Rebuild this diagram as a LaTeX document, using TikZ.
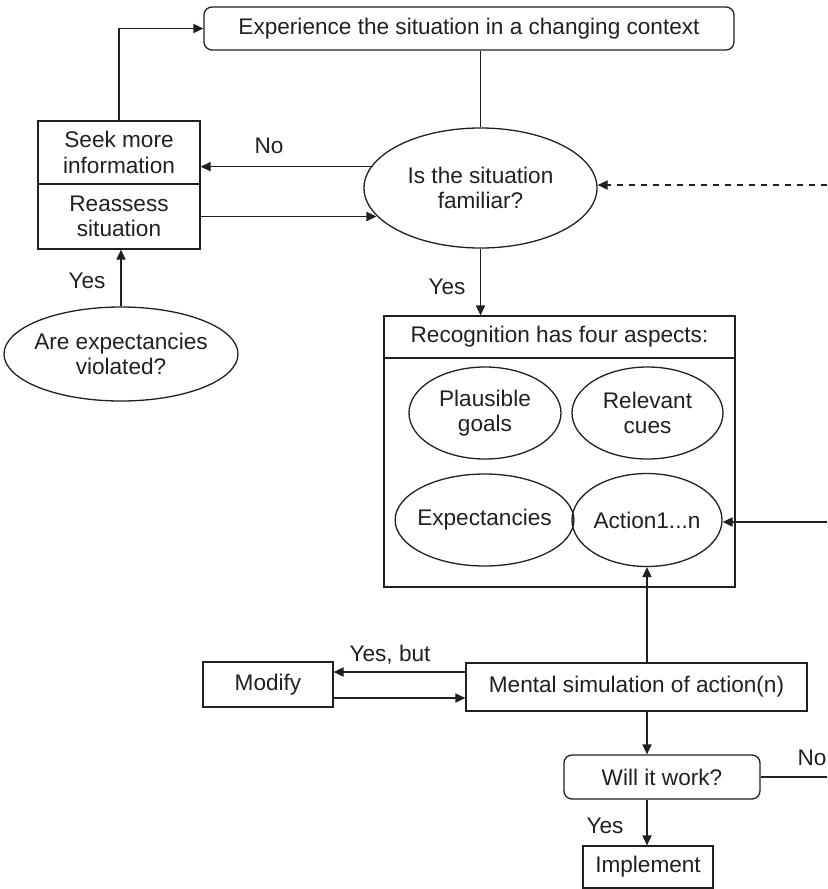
\documentclass[tikz,border=0pt]{standalone}
\usepackage{fontspec}
\setmainfont{Liberation Sans}
\usetikzlibrary{shapes.geometric, arrows.meta, positioning, calc}
\definecolor{rpdInk}{RGB}{35,31,32}

\begin{document}
\begin{tikzpicture}[x=0.5pt, y=-0.5pt,
    every node/.style={font=\fontsize{11.3}{12.6}\selectfont, text=rpdInk},
    box/.style={draw=rpdInk, line width=0.65pt, rectangle, align=center, inner sep=0pt},
    roundbox/.style={box, rounded corners=4pt},
    oval/.style={draw=rpdInk, line width=0.65pt, ellipse, align=center, inner sep=0pt},
    lbl/.style={inner sep=0pt},
    link/.style={draw=rpdInk, line width=0.65pt},
    arr/.style={link, -{Triangle[length=5pt, width=4.6pt]}}
  ]
  \useasboundingbox (0,0) rectangle (827,889);

  \node[roundbox, minimum width=265pt, minimum height=21.5pt] (exp) at (469,28.5) {Experience the situation in a changing context};
  \node[oval, minimum width=116.5pt, minimum height=60pt] (fam) at (480.5,188) {Is the situation\\familiar?};
  \node[box, minimum width=81pt, minimum height=31.5pt] (seek) at (119,152.5) {Seek more\\information};
  \node[box, minimum width=81pt, minimum height=32.5pt] (reas) at (119,216.5) {Reassess\\situation};
  \node[oval, inner xsep=-2.5pt, minimum width=117pt, minimum height=47pt] (viol) at (121,354) {Are expectancies\\violated?};

  \node[box, minimum width=175.5pt, minimum height=21pt] (rechead) at (559.5,337) {Recognition has four aspects:};
  \node[box, minimum width=175.5pt, minimum height=114.5pt] (recbody) at (559.5,472.5) {};
  \node[oval, minimum width=76pt, minimum height=46pt] (goals) at (485,413) {Plausible\\goals};
  \node[oval, minimum width=75.5pt, minimum height=46pt] (cues) at (647.5,413) {Relevant\\cues};
  \node[oval, inner xsep=-2pt, minimum width=87.5pt, minimum height=46pt] (expect) at (484.5,520) {Expectancies};
  \node[oval, inner xsep=-1pt, minimum width=75pt, minimum height=46.5pt] (act) at (647,520) {Action1...n};

  \node[box, minimum width=65pt, minimum height=22.5pt] (mod) at (268,684.5) {Modify};
  \node[box, minimum width=170.5pt, minimum height=24pt] (sim) at (636.5,687) {Mental simulation of action(n)};
  \node[roundbox, minimum width=98pt, minimum height=22pt] (will) at (662,777) {Will it work?};
  \node[box, minimum width=65pt, minimum height=21pt] (impl) at (648,867) {Implement};

  \coordinate (dashin) at (827,185);
  \coordinate (actin) at (827,522);
  \coordinate (noout) at (827,777);

  \draw[link] (exp.south -| fam.north) -- (fam.north);
  \draw[arr] (seek.north) |- (exp.west);
  \draw[arr] (fam.169) -- (fam.169 -| seek.east);
  \draw[arr] (reas.east) -- (reas.east -| fam.195);
  \draw[arr] (viol.north) -- (viol.north |- reas.south);
  \draw[arr, dashed] (dashin) -- (dashin -| fam.east);
  \draw[arr] (fam.south) -- (fam.south |- rechead.north);
  \draw[arr] (actin) -- (actin -| act.east);

  \draw[arr] (sim.west |- 0,672) -- (mod.east |- 0,672);
  \draw[arr] (mod.east |- 0,698) -- (sim.west |- 0,698);
  \draw[arr] (act.south |- sim.north) -- (act.south);
  \draw[arr] (act.south |- sim.south) -- (act.south |- will.north);
  \draw[arr] (act.south |- will.south) -- (act.south |- impl.north);
  \draw[link] (will.east) -- (noout);

  \node[lbl] (lno) at (269,146) {No};
  \node[lbl] (lyesleft) at (87,281) {Yes};
  \node[lbl] (lyesmid) at (447,287) {Yes};
  \node[lbl] (lyesbut) at (390,655) {Yes, but};
  \node[lbl] (lnowill) at (812,758) {No};
  \node[lbl] (lyeswill) at (605,826) {Yes};
\end{tikzpicture}
\end{document}
